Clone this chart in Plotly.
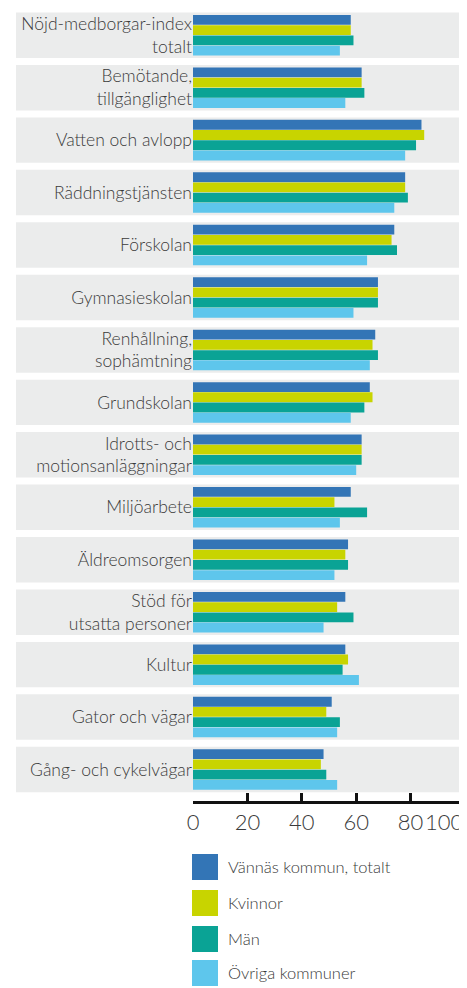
import plotly.graph_objects as go

# ---- data ----
categories = [
    "Nöjd-medborgar-index<br>totalt",
    "Bemötande,<br>tillgänglighet",
    "Vatten och avlopp",
    "Räddningstjänsten",
    "Förskolan",
    "Gymnasieskolan",
    "Renhållning,<br>sophämtning",
    "Grundskolan",
    "Idrotts- och<br>motionsanläggningar",
    "Miljöarbete",
    "Äldreomsorgen",
    "Stöd för<br>utsatta personer",
    "Kultur",
    "Gator och vägar",
    "Gång- och cykelvägar",
]
series_names = ["Vännäs kommun, totalt", "Kvinnor", "Män", "Övriga kommuner"]
vannas_totalt = [58, 62, 84, 78, 74, 68, 67, 65, 62, 58, 57, 56, 56, 51, 48]
kvinnor = [58, 62, 85, 78, 73, 68, 66, 66, 62, 52, 56, 53, 57, 49, 47]
man = [59, 63, 82, 79, 75, 68, 68, 63, 62, 64, 57, 59, 55, 54, 49]
ovriga = [54, 56, 78, 74, 64, 59, 65, 58, 60, 54, 52, 48, 61, 53, 53]
x_tick_values = [0, 20, 40, 60, 80, 100]
x_tick_labels = ["0", "20", "40", "60", "80", "100"]

series_values = [vannas_totalt, kvinnor, man, ovriga]
colors = ["#3375b6", "#c8d400", "#0aa395", "#5ec6ec"]

# ---- layout geometry ----
# The page body has an 8px default margin, so the figure is drawn 8px in.
OFF = 8
W, H = 467 - OFF, 988 - OFF
L, R, T, B = 185, 2, 1, 187
plot_w = W - L - R
plot_h = H - T - B

def px_x(x):  # x in window pixels -> paper
    return (x - OFF - L) / plot_w

def px_y(y):  # y in window pixels -> paper
    return (H - B - (y - OFF)) / plot_h

font_family = "Lato, 'Open Sans', sans-serif"
text_color = "#3a3a3a"
tick_font = dict(size=22, color=text_color, family=font_family, weight=300)

# the last tick label sits right-aligned at its tick (kept inside the canvas)
tick_text = x_tick_labels[:-1] + [""]

fig = go.Figure()
for name, vals, col in zip(series_names, series_values, colors):
    fig.add_trace(go.Bar(
        y=categories, x=vals, name=name, orientation="h",
        marker=dict(color=col, line=dict(width=0)),
        showlegend=False,
    ))

shapes = []
# grey background bands per category
for i, _ in enumerate(categories):
    shapes.append(dict(
        type="rect", xref="paper", yref="y",
        x0=px_x(16), x1=px_x(470), y0=i - 0.433, y1=i + 0.433,
        fillcolor="#ebecec", line=dict(width=0), layer="below",
    ))

annotations = [dict(
    xref="x", yref="paper", x=x_tick_values[-1], y=px_y(821),
    text=x_tick_labels[-1], showarrow=False, xanchor="right", yanchor="middle",
    font=tick_font,
)]

# custom legend
leg_y = [867, 903, 939, 973]
for name, col, yc in zip(series_names, colors, leg_y):
    shapes.append(dict(
        type="rect", xref="paper", yref="paper",
        x0=px_x(192), x1=px_x(218), y0=px_y(yc - 13), y1=px_y(yc + 13),
        fillcolor=col, line=dict(width=0),
    ))
    annotations.append(dict(
        xref="paper", yref="paper", x=px_x(226), y=px_y(yc),
        text=name, showarrow=False, xanchor="left", yanchor="middle",
        font=dict(family=font_family, size=16.5, color=text_color, weight=300),
    ))

fig.update_layout(
    width=W, height=H,
    margin=dict(l=L, r=R, t=T, b=B, autoexpand=False),
    paper_bgcolor="white", plot_bgcolor="rgba(0,0,0,0)",
    barmode="group", bargap=0.22, bargroupgap=0.04,
    shapes=shapes, annotations=annotations,
    font=dict(family=font_family, color=text_color),
    xaxis=dict(
        range=[0, 100], tickvals=x_tick_values, ticktext=tick_text,
        showgrid=False, zeroline=False, automargin=False,
        ticklabeloverflow="allow", tickangle=0,
        showline=True, linecolor="#111", linewidth=3,
        ticks="inside", ticklen=8, tickwidth=2.5, tickcolor="#111",
        tickfont=tick_font,
        fixedrange=True,
    ),
    yaxis=dict(
        range=[14.6, -0.5], showgrid=False, zeroline=False, showline=False,
        automargin=False,
        ticks="", tickfont=dict(size=17.5, color=text_color, family=font_family, weight=300),
        ticklabelstandoff=0,
        categoryorder="array", categoryarray=categories,
    ),
)

fig.write_html("out.html")
